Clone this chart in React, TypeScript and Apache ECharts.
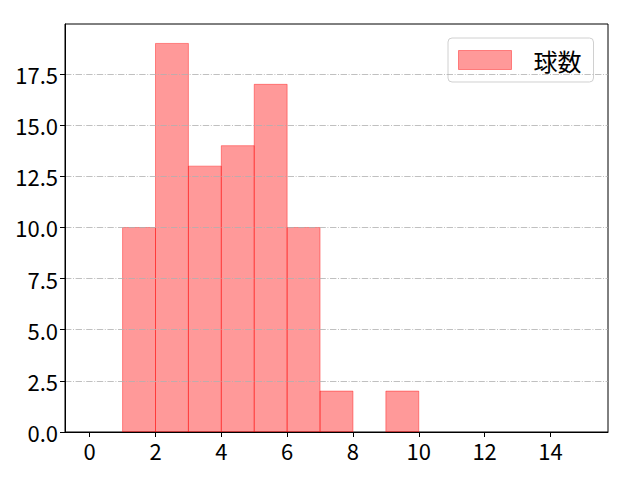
import React, { useEffect, useRef } from "react";
import * as echarts from "echarts";

const binStarts = [1, 2, 3, 4, 5, 6, 7, 8, 9];
const binWidth = 1;
const counts = [10, 19, 13, 14, 17, 10, 2, 0, 2];
const xTicks = [0, 2, 4, 6, 8, 10, 12, 14];
const yTicks = [0, 2.5, 5, 7.5, 10, 12.5, 15, 17.5];
const seriesName = "球数";

const FONT = "'Noto Sans CJK JP', 'Noto Sans', sans-serif";
const FILL = "rgba(255,0,0,0.4)";
const EDGE = "rgba(255,0,0,0.4)";

export default function App() {
  const ref = useRef<HTMLDivElement>(null);
  useEffect(() => {
    document.body.style.margin = "0";
    const chart = echarts.init(ref.current!, undefined, { renderer: "svg" });
    const data = binStarts.map((s, i) => [s, s + binWidth, counts[i]]);
    chart.setOption({
      animation: false,
      backgroundColor: "#fff",
      textStyle: { fontFamily: FONT },
      grid: {
        left: 65,
        top: 24,
        right: 32,
        bottom: 48,
        show: true,
        borderColor: "#000",
        borderWidth: 1,
        backgroundColor: "transparent",
      },
      legend: {
        data: [
          {
            name: seriesName,
            icon: "rect",
            itemStyle: { color: FILL, borderColor: EDGE, borderWidth: 1 },
          },
        ],
        left: 448,
        top: 38,
        orient: "vertical",
        itemWidth: 53,
        itemHeight: 19,
        padding: [10, 12, 10, 10],
        backgroundColor: "#fff",
        borderColor: "#d0d0d0",
        borderWidth: 1,
        borderRadius: 4,
        textStyle: {
          fontFamily: FONT,
          fontSize: 24,
          color: "#000",
          padding: [0, 0, 0, 17],
        },
      },
      xAxis: {
        type: "value",
        min: -0.75,
        max: 15.75,
        z: 6,
        axisLine: { show: true, onZero: false, lineStyle: { color: "#000", width: 1 } },
        axisTick: {
          show: true,
          customValues: xTicks,
          length: 5,
          lineStyle: { color: "#000", width: 1 },
        },
        axisLabel: {
          customValues: xTicks,
          fontSize: 22,
          color: "#000",
          fontFamily: FONT,
          margin: 7,
        },
        splitLine: { show: false },
      },
      yAxis: {
        type: "value",
        min: 0,
        max: 19.95,
        z: 5,
        axisLine: { show: true, onZero: false, lineStyle: { color: "#000", width: 1 } },
        axisTick: {
          show: true,
          customValues: yTicks,
          length: 5,
          lineStyle: { color: "#000", width: 1 },
        },
        axisLabel: {
          customValues: yTicks,
          fontSize: 22,
          color: "#000",
          fontFamily: FONT,
          margin: 7,
          formatter: (v: number) => v.toFixed(1),
        },
        splitLine: {
          show: true,
          lineStyle: {
            color: "#b0b0b0",
            width: 0.8,
            type: [6.4, 1.6, 1, 1.6],
          },
        },
      },
      series: [
        {
          name: seriesName,
          type: "custom",
          itemStyle: { color: FILL, borderColor: EDGE, borderWidth: 1 },
          encode: { x: [0, 1], y: 2 },
          data,
          renderItem: (params: any, api: any) => {
            const x0 = api.value(0);
            const x1 = api.value(1);
            const h = api.value(2);
            if (!h) return null;
            const p0 = api.coord([x0, h]);
            const p1 = api.coord([x1, 0]);
            return {
              type: "rect",
              shape: {
                x: p0[0],
                y: p0[1],
                width: p1[0] - p0[0],
                height: p1[1] - p0[1],
              },
              style: { fill: FILL, stroke: EDGE, lineWidth: 1 },
            };
          },
        },
      ],
    });
    return () => chart.dispose();
  }, []);
  return (
    <div
      ref={ref}
      style={{ position: "fixed", left: 0, top: 0, width: 640, height: 480 }}
    />
  );
}
